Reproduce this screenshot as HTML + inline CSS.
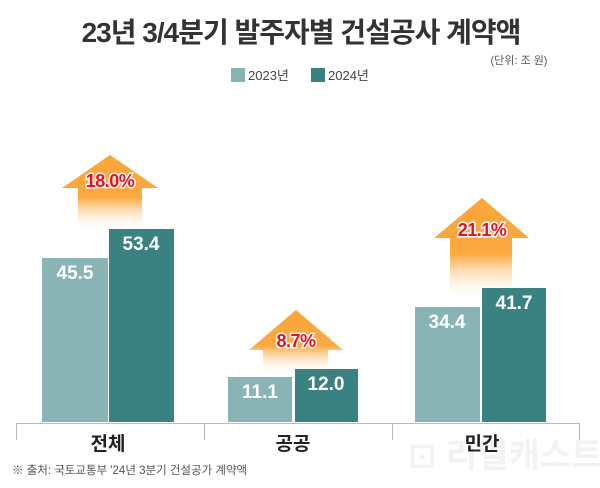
<!DOCTYPE html>
<html><head><meta charset="utf-8"><style>
body{margin:0;background:#fff;}
svg{display:block;font-family:"Liberation Sans","Noto Sans CJK KR",sans-serif;}
</style></head><body>
<svg width="600" height="488" viewBox="0 0 600 488">
<defs>
<linearGradient id="g" x1="0" y1="0" x2="0" y2="1">
<stop offset="0" stop-color="#f9a53a"/><stop offset="0.55" stop-color="#fba940"/><stop offset="1" stop-color="#fff" stop-opacity="0"/>
</linearGradient>
</defs>
<text x="301" y="42" text-anchor="middle" font-size="28" font-weight="bold" fill="#333" letter-spacing="-1">23년 3/4분기 발주자별 건설공사 계약액</text>
<text x="519" y="64" text-anchor="middle" font-size="11" fill="#555">(단위: 조 원)</text>
<rect x="231" y="68" width="14" height="14" fill="#89b4b6"/>
<text x="248" y="80" font-size="13" fill="#444">2023년</text>
<rect x="311" y="68" width="14" height="14" fill="#3a8282"/>
<text x="328" y="80" font-size="13" fill="#444">2024년</text>

<!-- arrows -->
<polygon points="110,155 158,188 142,188 142,232 78,232 78,188 62,188" fill="url(#g)"/>
<polygon points="296,310 343,350 328,350 328,375 263,375 263,350 249,350" fill="url(#g)"/>
<polygon points="482,198 529,238 512,238 512,300 450,300 450,238 434,238" fill="url(#g)"/>
<g font-size="18" font-weight="bold" fill="#e8101a" stroke="#fff" stroke-width="3" paint-order="stroke" text-anchor="middle" letter-spacing="-0.5">
<text x="110" y="187">18.0%</text>
<text x="296" y="347">8.7%</text>
<text x="482" y="236">21.1%</text>
</g>

<!-- bars -->
<rect x="42" y="258" width="66" height="164" fill="#89b4b6"/>
<rect x="109" y="229" width="65" height="193" fill="#3a8282"/>
<rect x="228" y="377" width="64" height="45" fill="#89b4b6"/>
<rect x="295" y="369" width="63" height="53" fill="#3a8282"/>
<rect x="415" y="307" width="65" height="115" fill="#89b4b6"/>
<rect x="482" y="288" width="64" height="134" fill="#3a8282"/>
<g font-size="19" font-weight="bold" fill="#fff" text-anchor="middle">
<text x="75" y="279">45.5</text>
<text x="141" y="250">53.4</text>
<text x="260" y="398">11.1</text>
<text x="326" y="390">12.0</text>
<text x="447" y="328">34.4</text>
<text x="514" y="309">41.7</text>
</g>

<!-- axis -->
<g stroke="#bbb" stroke-width="1" fill="none">
<line x1="16" y1="423.5" x2="580" y2="423.5"/>
<line x1="16.5" y1="423" x2="16.5" y2="440"/>
<line x1="204.5" y1="423" x2="204.5" y2="440"/>
<line x1="392.5" y1="423" x2="392.5" y2="440"/>
<line x1="579.5" y1="423" x2="579.5" y2="440"/>
</g>
<g font-size="19" font-weight="bold" fill="#222" text-anchor="middle">
<text x="108" y="450">전체</text>
<text x="293" y="450">공공</text>
<text x="482" y="450">민간</text>
</g>
<text x="408" y="467" font-size="34" font-weight="bold" fill="#000" fill-opacity="0.05">⊡ 리얼캐스트</text>
<text x="12" y="474" font-size="11.5" fill="#555">※ 출처: 국토교통부 '24년 3분기 건설공가 계약액</text>
</svg>
</body></html>
